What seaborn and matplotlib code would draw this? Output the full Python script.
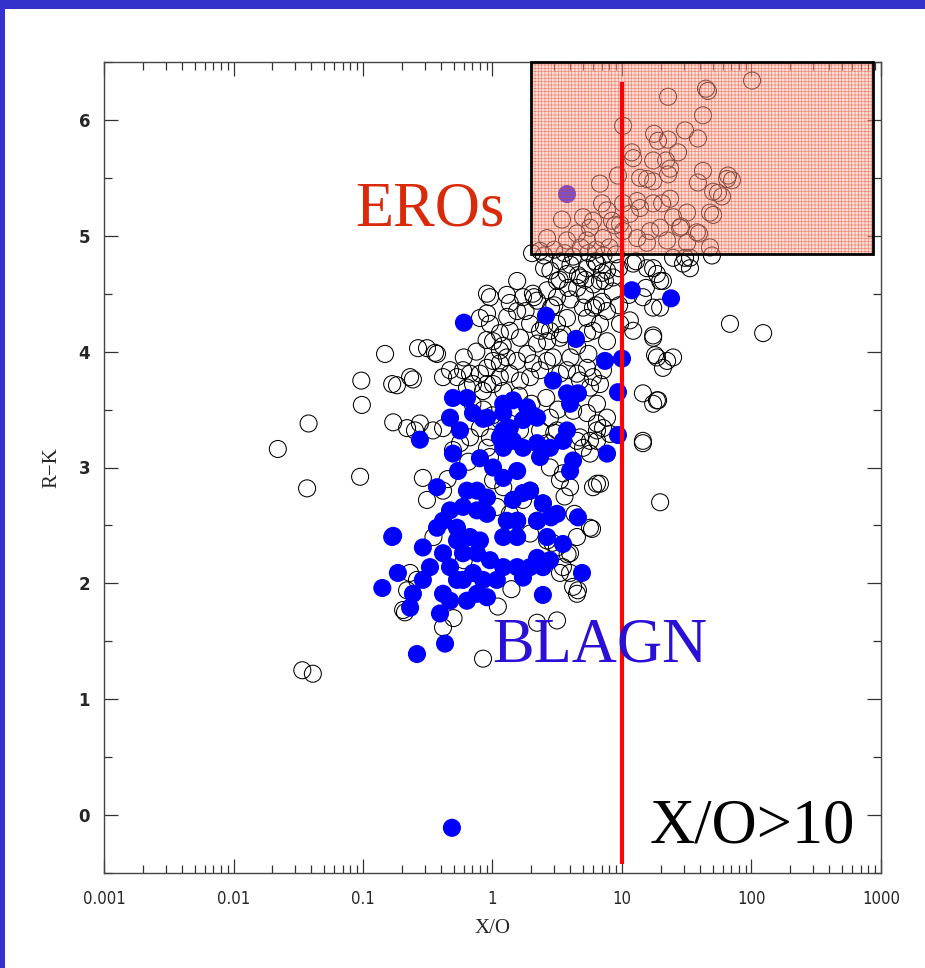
import matplotlib
matplotlib.use("Agg")
import matplotlib.pyplot as plt
from matplotlib.patches import Rectangle
from matplotlib.ticker import FixedLocator, FixedFormatter, LogLocator, NullFormatter, MultipleLocator
import seaborn as sns
import pandas as pd

# ---------------- data ----------------
xo_open = [
    0.022, 0.038, 0.037, 0.034, 0.041, 0.095, 0.097, 0.098, 0.148, 0.168, 0.183, 0.171,
    0.266, 0.312, 0.36, 0.243, 0.252, 0.29, 0.312, 0.211, 0.415, 0.845, 2.21, 3.15,
    14.5, 17.4, 18.0, 19.0, 19.7, 6.41, 5.87, 4.57, 3.97, 68.2, 123, 0.219, 0.204,
    0.231, 0.261, 0.495, 0.415,
    101, 44.5, 46.1, 22.7, 42.2, 10.2, 17.7, 30.7, 38.6, 19.0, 22.7, 27.1, 11.9, 12.2,
    17.4, 21.9, 23.5, 22.7, 15.6, 17.4, 13.8, 42.2, 38.6, 55.1, 65.9, 64.7, 6.76, 9.31,
    7.01, 7.66, 10.2, 13.1, 11.5, 13.8, 17.4, 20.4, 23.5, 24.8, 31.8, 47.8, 3.44, 5.00,
    5.97, 5.66, 8.37, 8.83, 9.66, 10.2, 16.5, 19.7, 28.0, 37.9, 2.64, 3.76, 4.49, 5.37,
    7.13, 13.1, 15.6, 22.3, 31.8, 47.8, 50.5, 59.2, 70.7, 50.5, 39.3, 28.6, 49.5, 30.7,
    2.02, 2.50, 1.55, 1.29, 3.38, 4.57, 6.19, 7.39, 9.48, 12.8, 17.4, 24.8, 33.5, 20.7,
    15.3, 11.3, 7.01, 5.18, 3.83, 2.83, 2.09, 2.33, 0.907, 0.956, 0.80, 0.907, 0.956,
    1.36, 1.72, 1.55, 2.05, 2.21, 2.64, 3.15, 3.76, 4.74, 3.15, 5.37, 6.41, 7.66, 6.76,
    8.53, 12.2, 15.6, 18.6, 19.7, 29.6, 33.5, 14.5, 17.4, 19.7, 17.4, 18.6, 22.3, 24.8,
    20.7, 14.5, 18.6, 17.4, 14.5, 11.5, 9.66, 12.2, 7.66, 5.97, 5.37, 6.76, 5.97, 5.37,
    7.66, 3.76, 3.15, 2.78, 3.32, 2.64, 2.33, 1.95, 2.21, 1.63, 1.36, 1.14, 1.01, 1.14,
    0.373, 0.231, 0.415, 0.470, 0.532, 0.592, 0.670, 0.707, 0.635, 0.80, 0.907, 1.01,
    1.14, 0.907, 0.845, 1.29, 1.55, 1.85, 2.05, 2.33, 2.64, 2.93, 1.95, 1.63, 1.36, 1.14,
    1.01, 1.21, 3.32, 3.76, 4.49, 5.37, 5.97, 7.13, 6.76, 5.66, 4.74, 4.19, 5.37, 6.41,
    7.66, 7.13, 6.41, 5.66, 4.74, 2.78, 3.15, 2.33, 2.64, 1.63, 1.36, 1.14, 0.956, 0.80,
    0.670, 0.561, 0.415, 0.347, 0.275, 0.219, 0.907, 0.956, 1.01, 1.21, 1.08, 1.36, 1.55,
    1.95, 2.45, 1.72, 2.21, 1.95, 2.78, 3.32, 3.97, 3.50, 4.49, 5.00, 5.66, 6.41, 8.08,
    6.41, 5.97, 6.76, 2.64, 3.15, 3.97, 3.50, 4.49, 3.32, 4.19, 4.49, 5.66,
    2.5, 3.0, 3.6, 4.2, 4.8, 5.5, 6.3, 7.2, 8.0, 9.0, 2.8, 3.3, 4.0, 4.5, 5.2, 6.0, 7.0,
    8.5, 9.5, 3.0, 4.0, 5.0, 6.3, 1.8, 2.5, 3.5, 4.5, 5.5, 1.3, 1.6, 2.0, 2.6, 3.2, 0.7,
    0.85, 1.0, 0.6, 0.75, 0.9, 1.2, 4.0, 3.0, 3.6, 4.3, 2.9, 3.8, 0.6, 0.35, 0.5, 1.1,
    1.4, 0.45, 0.65,
]
rk_open = [
    3.16, 3.38, 2.82, 1.25, 1.22, 2.92, 3.75, 3.54, 3.98, 3.72, 3.71, 3.39,
    4.03, 4.03, 3.99, 3.76, 3.32, 2.91, 2.72, 1.75, 1.62, 1.35, 1.66, 1.68,
    3.21, 4.14, 3.97, 3.58, 2.70, 2.86, 2.47, 1.94, 2.09, 4.24, 4.16, 1.94, 1.77,
    2.09, 2.03, 3.15, 2.80,
    6.34, 6.27, 6.25, 6.20, 6.04, 5.95, 5.88, 5.91, 5.84, 5.82, 5.83, 5.72, 5.72, 5.67,
    5.65, 5.65, 5.58, 5.53, 5.49, 5.47, 5.50, 5.56, 5.46, 5.37, 5.52, 5.49, 5.45, 5.52,
    5.28, 5.22, 5.28, 5.30, 5.19, 5.24, 5.28, 5.28, 5.32, 5.16, 5.20, 5.20, 5.14, 5.16,
    5.13, 5.07, 5.13, 5.09, 5.10, 5.04, 5.04, 5.07, 5.07, 5.03, 4.98, 4.96, 5.02, 4.96,
    4.98, 4.98, 4.94, 4.96, 4.94, 4.90, 5.38, 5.34, 5.48, 5.18, 5.02, 5.08, 4.83, 4.81,
    4.85, 4.72, 4.61, 4.49, 4.78, 4.66, 4.78, 4.61, 4.72, 4.78, 4.72, 4.81, 4.72, 4.61,
    4.55, 4.49, 4.43, 4.49, 4.55, 4.38, 4.47, 4.87, 4.50, 4.47, 4.29, 4.33, 4.24,
    4.42, 4.47, 4.35, 4.50, 4.44, 4.53, 4.61, 4.67, 4.64, 4.47, 4.72, 4.76, 4.70, 4.61,
    4.64, 4.76, 4.72, 4.67, 4.61, 4.76, 4.81, 4.47, 4.38, 4.38, 4.12, 3.95, 3.92, 3.95,
    3.86, 3.64, 3.58, 3.55, 3.23, 4.27, 4.24, 4.18, 4.35, 4.38, 4.29, 4.24, 4.18, 4.16,
    4.09, 4.29, 4.24, 4.18, 4.12, 4.09, 4.18, 4.24, 4.07, 4.12, 4.18, 4.16, 4.09, 4.01,
    3.98, 3.78, 3.78, 3.84, 3.78, 3.84, 3.81, 3.72, 3.69, 3.81, 3.86, 3.92,
    3.90, 3.72, 3.66, 3.95, 3.92, 3.98, 3.90, 3.84, 3.92, 3.95, 3.78, 3.75, 3.81, 3.78,
    3.72, 3.66, 3.81, 3.84, 3.81, 3.86, 3.78, 3.84, 3.72, 3.69, 3.75, 3.49, 3.47, 3.55,
    3.43, 3.34, 3.32, 3.23, 3.26, 3.43, 3.32, 3.32, 3.21, 3.32, 3.38, 3.41, 3.26, 3.34,
    3.26, 3.21, 3.34, 3.32, 3.38, 3.34, 3.17, 3.09, 2.89, 2.83, 2.66, 2.60, 2.54,
    2.80, 2.69, 2.72, 2.54, 2.43, 3.00, 2.89, 2.83, 2.95, 3.23, 3.17, 3.12, 3.23, 3.29,
    3.38, 2.83, 2.86, 2.37, 2.31, 2.26, 2.14, 2.40, 2.09, 1.97, 1.91, 2.48,
    4.83, 4.88, 4.85, 4.82, 4.90, 4.85, 4.88, 4.83, 4.90, 4.84, 4.70, 4.62, 4.75, 4.55,
    4.62, 4.58, 4.68, 4.52, 4.40, 4.40, 4.45, 4.38, 4.40, 4.35, 4.22, 4.15, 4.05, 3.98,
    4.30, 3.62, 3.55, 3.60, 3.50, 3.55, 3.50, 3.45, 3.95, 4.00, 4.10, 4.05, 3.95, 3.30,
    2.75, 2.60, 2.35, 2.25, 2.20, 2.40, 1.70, 1.80, 1.95, 2.90, 3.05,
]

xo_blagn = [
    3.76, 11.9, 23.9, 2.59, 0.602, 4.41, 7.39, 10.0, 9.31, 9.31, 7.66, 2.93, 3.76, 4.57,
    3.97, 3.76, 0.495, 0.635, 0.47, 0.561, 0.707, 0.907, 1.21, 1.44, 1.85, 2.21, 1.36,
    1.14, 0.275, 1.21, 1.72, 2.05, 1.21, 1.21, 1.44, 1.72, 2.21, 2.33, 2.78, 3.50, 4.19,
    3.97, 0.845, 0.495, 0.542, 0.80, 1.01, 1.21, 1.55, 0.373, 0.635, 0.759, 0.907, 0.592,
    0.759, 0.907, 0.47, 0.415, 0.373, 0.532, 1.44, 1.72, 1.95, 2.45, 3.15, 2.21, 1.55,
    1.29, 2.64, 3.50, 2.21, 2.78, 2.45, 1.95, 1.55, 1.72, 4.57, 4.91, 2.45, 0.168, 0.186,
    0.141, 0.29, 0.329, 0.29, 0.243, 0.231, 0.415, 0.47, 0.532, 0.415, 0.393, 0.47, 0.635,
    0.759, 0.907, 0.592, 0.707, 0.845, 1.08, 1.21, 0.956, 0.759, 0.592, 0.532, 0.67, 0.80,
    0.43, 1.55, 1.21, 0.261, 0.486, 2.83, 0.171,
]
rk_blagn = [
    5.36, 4.53, 4.46, 4.31, 4.25, 4.11, 3.92, 3.94, 3.65, 3.28, 3.12, 3.75, 3.64, 3.64,
    3.55, 3.32, 3.60, 3.60, 3.43, 3.32, 3.47, 3.43, 3.55, 3.58, 3.52, 3.43, 3.34,
    3.26, 3.24, 3.47, 3.41, 3.45, 3.32, 3.17, 3.23, 3.17, 3.21, 3.09, 3.17, 3.23, 3.06,
    2.97, 3.42, 3.12, 2.97, 3.08, 3.00, 2.91, 2.97, 2.83, 2.80, 2.80, 2.74, 2.66,
    2.63, 2.60, 2.63, 2.54, 2.48, 2.48, 2.72, 2.78, 2.80, 2.69, 2.60, 2.54, 2.54,
    2.54, 2.40, 2.34, 2.22, 2.20, 2.14, 2.14, 2.14, 2.05, 2.57, 2.09, 1.90, 2.40, 2.09,
    1.96, 2.31, 2.14, 2.03, 1.91, 1.79, 2.26, 2.14, 2.03, 1.91, 1.74, 1.85, 1.85,
    1.91, 1.88, 2.03, 2.09, 2.03, 2.03, 2.14, 2.20, 2.26, 2.26, 2.37, 2.40, 2.37,
    1.48, 2.40, 2.40, 1.39, -0.11, 2.57, 2.41,
]

x_ticks = [0.001, 0.01, 0.1, 1, 10, 100, 1000]
x_tick_labels = ["0.001", "0.01", "0.1", "1", "10", "100", "1000"]
y_ticks = [0, 1, 2, 3, 4, 5, 6]

ero_box_x = [2, 870]
ero_box_y = [4.84, 6.5]
xo_cut = 10
xo_cut_y = [-0.42, 6.33]

df_open = pd.DataFrame({"xo": xo_open, "rk": rk_open})
df_blagn = pd.DataFrame({"xo": xo_blagn, "rk": rk_blagn})

# ---------------- figure ----------------
sns.set_style("ticks")
plt.rcParams["hatch.linewidth"] = 0.5

fig = plt.figure(figsize=(9.25, 9.68), dpi=100)
fig.patch.set_facecolor("white")
# slide border (blue band at top and left)
fig.patches.append(Rectangle((0, 1 - 9 / 968), 1, 9 / 968, transform=fig.transFigure,
                             facecolor="#3333cc", edgecolor="none", zorder=0))
fig.patches.append(Rectangle((0, 0), 5 / 925, 1, transform=fig.transFigure,
                             facecolor="#3333cc", edgecolor="none", zorder=0))

ax = fig.add_axes([104 / 925, 1 - 873 / 968, (881 - 104) / 925, (873 - 62) / 968])
ax.set_xscale("log")

sns.scatterplot(data=df_open, x="xo", y="rk", ax=ax, s=150, marker="o",
                facecolor="none", edgecolor="black", linewidth=0.75, zorder=2, legend=False)
sns.scatterplot(data=df_blagn, x="xo", y="rk", ax=ax, s=170, marker="o",
                color="#0000ff", edgecolor="none", linewidth=0, zorder=3, legend=False)

# ERO region
w = ero_box_x[1] - ero_box_x[0]
h = ero_box_y[1] - ero_box_y[0]
ax.add_patch(Rectangle((ero_box_x[0], ero_box_y[0]), w, h,
                       facecolor=(0.98, 0.72, 0.66, 0.45), edgecolor=(0.92, 0.25, 0.15, 0.55),
                       linewidth=0, hatch="+++++", zorder=4))
ax.add_patch(Rectangle((ero_box_x[0], ero_box_y[0]), w, h, fill=False,
                       edgecolor="black", linewidth=2, zorder=5, clip_on=False))

# X/O = 10 cut
ax.plot([xo_cut, xo_cut], xo_cut_y, color="#ff0000", linewidth=3, zorder=6,
        solid_capstyle="butt")

ax.set_xlim(1e-3, 1e3)
ax.set_ylim(-0.5, 6.5)

ax.xaxis.set_major_locator(FixedLocator(x_ticks))
ax.xaxis.set_major_formatter(FixedFormatter(x_tick_labels))
ax.xaxis.set_minor_locator(LogLocator(base=10, subs=range(2, 10), numticks=20))
ax.xaxis.set_minor_formatter(NullFormatter())
ax.yaxis.set_major_locator(FixedLocator(y_ticks))
ax.yaxis.set_minor_locator(MultipleLocator(0.5))

ax.tick_params(which="both", direction="in", top=True, right=True, color="#333333", width=0.9)
ax.tick_params(which="major", length=10, pad=12)
ax.tick_params(which="minor", length=6)
for lab in ax.get_xticklabels():
    lab.set_fontfamily(["DejaVu Sans"])
    lab.set_fontstretch("condensed")
    lab.set_fontsize(12)
for lab in ax.get_yticklabels():
    lab.set_fontfamily(["DejaVu Sans"])
    lab.set_fontsize(12)
    lab.set_fontweight("bold")
ax.tick_params(axis="y", pad=10)

for sp in ax.spines.values():
    sp.set_color("#444444")
    sp.set_linewidth(1.0)

ax.set_xlabel("X/O", fontsize=15, family=["Liberation Serif"], labelpad=8)
ax.set_ylabel("R\u2212K", fontsize=15, family=["Liberation Serif"], labelpad=12)

ax.text(0.323, 0.799, "EROs", transform=ax.transAxes, ha="left", va="baseline",
        fontsize=45, family=["Liberation Serif"], color="#d92b0a", zorder=7)
ax.text(0.4994, 0.2614, "BLAGN", transform=ax.transAxes, ha="left", va="baseline",
        fontsize=45, family=["Liberation Serif"], color="#2a0fd6", zorder=7)
ax.text(0.7027, 0.0382, "X/O>10", transform=ax.transAxes, ha="left", va="baseline",
        fontsize=45, family=["Liberation Serif"], color="black", zorder=7)

fig.savefig("out.png", dpi=100)
